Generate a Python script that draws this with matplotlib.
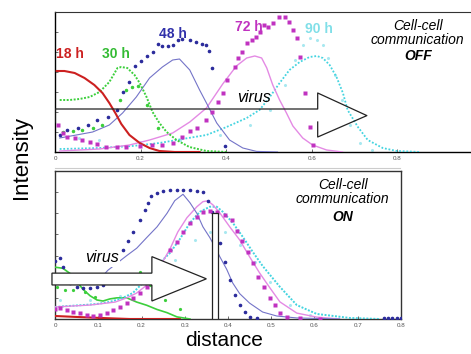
import numpy as np
import matplotlib
matplotlib.use("Agg")
import matplotlib.pyplot as plt
from matplotlib.patches import Polygon, Rectangle
from matplotlib.lines import Line2D

plt.rcParams['font.family'] = ['Liberation Sans', 'DejaVu Sans']

# ---- top panel (cell-cell communication OFF) ----
off_red_x = [0.004, 0.022, 0.046, 0.069, 0.092, 0.111, 0.127, 0.141, 0.155, 0.174, 0.198, 0.221, 0.244, 0.280, 0.338]
off_red_y = [4.05, 4.05, 3.95, 3.7, 3.35, 2.95, 2.45, 1.95, 1.4, 0.85, 0.45, 0.2, 0.05, 0.0, 0.0]

off_green_x = [0.011, 0.034, 0.057, 0.081, 0.104, 0.127, 0.146, 0.155, 0.169, 0.186, 0.198, 0.214, 0.228, 0.244, 0.261, 0.284, 0.314, 0.354, 0.401]
off_green_y = [2.6, 2.6, 2.65, 2.75, 3.0, 3.5, 4.2, 4.25, 4.2, 3.85, 3.45, 2.75, 2.0, 1.45, 1.0, 0.6, 0.25, 0.05, 0.0]
off_green_dx = [0.018, 0.041, 0.064, 0.088, 0.111, 0.151, 0.167, 0.181, 0.195, 0.216, 0.240]
off_green_dy = [1.0, 1.05, 1.1, 1.2, 1.35, 2.6, 3.1, 3.25, 3.3, 2.35, 1.2]

off_navy_x = [0.011, 0.05, 0.088, 0.127, 0.158, 0.19, 0.221, 0.251, 0.275, 0.291, 0.315, 0.338, 0.354, 0.378, 0.408, 0.439, 0.471, 0.52]
off_navy_y = [0.7, 0.85, 1.0, 1.35, 1.95, 2.75, 3.7, 4.25, 4.6, 4.65, 4.1, 3.1, 2.45, 1.45, 0.6, 0.2, 0.03, 0.0]
off_navy_dx = [0.011, 0.029, 0.053, 0.076, 0.099, 0.123, 0.146, 0.160, 0.174, 0.188, 0.200, 0.214, 0.228, 0.240, 0.251,
               0.263, 0.275, 0.287, 0.298, 0.315, 0.329, 0.343, 0.354, 0.359, 0.366, 0.398]
off_navy_dy = [0.85, 1.1, 1.2, 1.35, 1.6, 1.75, 2.1, 3.0, 3.5, 4.3, 4.55, 4.8, 5.0, 5.4, 5.3,
               5.3, 5.35, 5.6, 5.65, 5.6, 5.5, 5.4, 5.35, 5.05, 4.2, 0.3]

off_mag_x = [0.011, 0.104, 0.174, 0.221, 0.275, 0.315, 0.354, 0.392, 0.424, 0.448, 0.467, 0.483, 0.495, 0.509, 0.525,
             0.541, 0.556, 0.579, 0.602, 0.635, 0.672]
off_mag_y = [0.05, 0.15, 0.35, 0.6, 0.95, 1.5, 2.2, 3.4, 4.3, 4.7, 4.8, 4.7, 4.2, 3.35, 2.6,
             1.95, 1.3, 0.7, 0.35, 0.1, 0.0]
off_mag_dx = [0.008, 0.018, 0.029, 0.046, 0.062, 0.081, 0.099, 0.120, 0.144, 0.167, 0.198, 0.226, 0.251, 0.275,
              0.298, 0.315, 0.333, 0.354, 0.366, 0.380, 0.392, 0.403, 0.420, 0.427, 0.436, 0.448, 0.460, 0.469,
              0.478, 0.488, 0.497, 0.509, 0.523, 0.537, 0.548, 0.556, 0.565, 0.572, 0.584, 0.595, 0.602]
off_mag_dy = [1.35, 0.95, 0.75, 0.7, 0.6, 0.5, 0.4, 0.25, 0.25, 0.25, 0.3, 0.35, 0.35, 0.45,
              0.75, 1.05, 1.2, 1.6, 2.0, 2.5, 2.95, 3.6, 4.25, 4.7, 5.0, 5.45, 5.6, 5.75,
              6.0, 6.35, 6.25, 6.45, 6.75, 6.75, 6.5, 6.1, 5.7, 4.75, 2.95, 1.25, 0.35]

off_cyan_x = [0.011, 0.104, 0.181, 0.244, 0.298, 0.354, 0.401, 0.448, 0.478, 0.502, 0.525, 0.548, 0.572, 0.595, 0.612,
              0.626, 0.642, 0.658, 0.673, 0.684, 0.708, 0.731, 0.766, 0.799, 0.853]
off_cyan_y = [0.15, 0.2, 0.3, 0.45, 0.65, 0.85, 1.25, 1.7, 2.1, 2.75, 3.45, 4.1, 4.5, 4.75, 4.8,
              4.7, 4.35, 3.75, 2.95, 2.1, 1.25, 0.6, 0.2, 0.05, 0.0]
off_cyan_dx = [0.011, 0.057, 0.104, 0.198, 0.291, 0.385, 0.455, 0.502, 0.537, 0.560, 0.579, 0.595, 0.612, 0.626,
               0.637, 0.654, 0.670, 0.689, 0.712, 0.740]
off_cyan_dy = [0.85, 0.7, 0.6, 0.5, 0.6, 0.85, 1.35, 2.1, 3.35, 4.6, 5.35, 5.7, 5.6, 5.35,
               4.7, 3.85, 2.6, 1.35, 0.45, 0.1]

# ---- bottom panel (cell-cell communication ON) ----
on_red_x = [0.002, 0.046, 0.104, 0.173, 0.289]
on_red_y = [0.14, 0.1, 0.05, 0.0, 0.0]

on_green_x = [0.0, 0.018, 0.035, 0.051, 0.065, 0.081, 0.097, 0.111, 0.127, 0.143, 0.166, 0.189, 0.212, 0.236, 0.259, 0.282, 0.312]
on_green_y = [2.45, 2.4, 2.15, 1.75, 1.4, 1.1, 0.9, 0.85, 0.95, 1.0, 1.0, 0.8, 0.65, 0.45, 0.3, 0.1, 0.0]
on_green_dx = [0.005, 0.023, 0.042, 0.069, 0.092, 0.127, 0.150, 0.173, 0.196, 0.219, 0.254, 0.289]
on_green_dy = [1.5, 1.35, 1.35, 1.3, 1.05, 1.75, 1.85, 2.05, 2.2, 1.6, 0.9, 0.45]

on_navy_x = [0.0, 0.035, 0.065, 0.088, 0.111, 0.122, 0.166, 0.189, 0.212, 0.236, 0.259, 0.277, 0.296, 0.312, 0.328,
             0.342, 0.358, 0.370, 0.381, 0.397, 0.411, 0.427, 0.450, 0.480, 0.513, 0.559, 0.658]
on_navy_y = [1.7, 1.7, 1.7, 1.85, 2.05, 2.3, 3.0, 3.35, 3.85, 4.36, 5.0, 5.6, 5.9, 5.5, 5.0,
             4.36, 3.85, 3.4, 2.95, 2.35, 1.7, 1.2, 0.75, 0.33, 0.14, 0.05, 0.0]
on_navy_dx = [0.0, 0.012, 0.018, 0.035, 0.051, 0.065, 0.081, 0.097, 0.111, 0.134, 0.157, 0.169, 0.180, 0.196, 0.208,
              0.215, 0.222, 0.236, 0.249, 0.266, 0.282, 0.296, 0.312, 0.328, 0.342, 0.353, 0.363, 0.370, 0.381,
              0.393, 0.404, 0.416, 0.427, 0.439, 0.450, 0.467, 0.76, 0.77, 0.78, 0.79, 0.80]
on_navy_dy = [2.75, 2.9, 2.45, 1.7, 1.5, 1.45, 1.45, 1.5, 1.6, 2.0, 3.25, 3.7, 4.1, 4.7, 5.15,
              5.5, 5.8, 5.95, 6.05, 6.1, 6.1, 6.1, 6.1, 6.05, 6.0, 5.6, 5.05, 4.36, 3.6,
              2.7, 1.85, 1.15, 0.66, 0.33, 0.1, 0.05, 0.05, 0.05, 0.05, 0.05, 0.05]

on_mag_x = [0.0, 0.081, 0.139, 0.166, 0.189, 0.212, 0.226, 0.242, 0.266, 0.284, 0.305, 0.328, 0.342, 0.353, 0.365,
            0.381, 0.404, 0.427, 0.450, 0.473, 0.497, 0.520, 0.559, 0.605, 0.658]
on_mag_y = [0.57, 0.66, 0.8, 1.0, 1.23, 1.6, 1.99, 2.46, 3.32, 4.12, 4.79, 5.31, 5.55, 5.59, 5.4,
            5.02, 4.36, 3.74, 2.94, 2.18, 1.47, 0.81, 0.28, 0.09, 0.0]
on_mag_dx = [0.0, 0.012, 0.028, 0.042, 0.058, 0.074, 0.088, 0.104, 0.120, 0.134, 0.150, 0.166, 0.180, 0.196, 0.212,
             0.224, 0.236, 0.245, 0.266, 0.282, 0.296, 0.312, 0.328, 0.342, 0.358, 0.374, 0.393, 0.409, 0.420,
             0.432, 0.446, 0.457, 0.469, 0.483, 0.497, 0.508, 0.520, 0.536, 0.566, 0.612]
on_mag_dy = [0.47, 0.52, 0.43, 0.33, 0.28, 0.19, 0.14, 0.19, 0.28, 0.43, 0.57, 0.76, 1.0, 1.23, 1.52,
             1.85, 2.18, 2.51, 3.27, 3.65, 4.12, 4.55, 4.83, 5.07, 5.12, 5.07, 4.93, 4.69, 4.17,
             3.7, 3.18, 2.65, 1.99, 1.52, 1.0, 0.66, 0.28, 0.09, 0.05, 0.0]

on_cyan_x = [0.0, 0.035, 0.065, 0.097, 0.127, 0.157, 0.180, 0.203, 0.226, 0.242, 0.266, 0.289, 0.312, 0.335, 0.358,
             0.374, 0.388, 0.411, 0.434, 0.457, 0.480, 0.503, 0.520, 0.559, 0.605, 0.681, 0.751]
on_cyan_y = [0.57, 0.62, 0.66, 0.71, 0.81, 1.0, 1.23, 1.71, 2.23, 2.65, 3.13, 3.79, 4.55, 5.07, 5.31,
             5.31, 5.07, 4.55, 3.89, 3.18, 2.51, 1.94, 1.52, 0.66, 0.24, 0.05, 0.0]
on_cyan_dx = [0.012, 0.081, 0.150, 0.219, 0.277, 0.323, 0.358, 0.393, 0.427, 0.462, 0.497, 0.543, 0.589]
on_cyan_dy = [0.9, 0.9, 1.09, 1.61, 2.80, 3.74, 4.12, 4.12, 3.51, 2.70, 1.75, 0.66, 0.19]

top_ticks = [0, 0.2, 0.4, 0.6, 0.8]
top_ticklabels = ['0', '0.2', '0.4', '0.6', '0.8']
bot_ticks = [0, 0.1, 0.2, 0.3, 0.4, 0.5, 0.6, 0.7, 0.8]
bot_ticklabels = ['0', '0.1', '0.2', '0.3', '0.4', '0.5', '0.6', '0.7', '0.8']

# colours
RED = '#cc2020'
GREEN = '#3ccf3c'
NAVY_L = '#7474c8'
NAVY_D = '#2c2c9c'
MAG_L = '#e48ae4'
MAG_D = '#c032c0'
CYAN = '#44d4e0'
CYAN_L = '#a8e8f0'

fig = plt.figure(figsize=(4.71, 3.54), dpi=100)
ax1 = fig.add_axes([55/471, 1-152/354, 415/471, 140/354])
ax2 = fig.add_axes([55/471, 1-319/354, 346/471, 148/354])


def style_axes(ax, xmax, ticks, labels):
    ax.set_xlim(0, xmax)
    ax.set_ylim(0, 7)
    ax.set_yticks([1, 2, 3, 4, 5, 6])
    ax.set_yticklabels([])
    ax.set_xticks(ticks)
    ax.set_xticklabels(labels)
    ax.tick_params(axis='both', direction='in', length=2.5, width=0.6, color='#555555',
                   labelsize=4.5, labelcolor='#555555', pad=3)


# top
ax = ax1
style_axes(ax, 0.97, top_ticks, top_ticklabels)
for s in ['left', 'bottom']:
    ax.spines[s].set_color('black')
    ax.spines[s].set_linewidth(1.0)
ax.spines['top'].set_color('#333333')
ax.spines['right'].set_visible(False)

ax.plot(off_cyan_dx, off_cyan_dy, 'o', ms=1.2, color=CYAN_L, zorder=2)
ax.plot(off_cyan_x, off_cyan_y, color=CYAN, lw=1.3, ls=(0, (1, 1)), zorder=3)
ax.plot(off_mag_x, off_mag_y, color=MAG_L, lw=1.0, zorder=3)
ax.plot(off_navy_x, off_navy_y, color=NAVY_L, lw=0.8, zorder=3)
ax.plot(off_green_dx, off_green_dy, 'o', ms=1.5, color=GREEN, zorder=3)
ax.plot(off_green_x, off_green_y, color=GREEN, lw=1.4, ls=(0, (1, 0.8)), zorder=4)
ax.plot(off_red_x, off_red_y, color=RED, lw=1.5, zorder=4)
ax.plot(off_navy_dx, off_navy_dy, 'o', ms=1.6, color=NAVY_D, zorder=4)
ax.plot(off_mag_dx, off_mag_dy, 's', ms=2.3, color=MAG_D, mec='none', zorder=4)

# virus arrow, top (outline only)
arrow_top = [(0.0, 1.5), (0.0, 2.15), (0.614, 2.15), (0.614, 2.95), (0.729, 1.82),
             (0.614, 0.75), (0.614, 1.5)]
ax.add_line(Line2D([p[0] for p in arrow_top], [p[1] for p in arrow_top],
                   color='#222222', lw=0.9, zorder=6))
ax.text(0.425, 2.75, 'virus', fontsize=11.5, style='italic', ha='left', va='center', zorder=7)

ax.text(0.003, 4.9, '18 h', color=RED, fontsize=10, fontweight='bold', ha='left', va='center')
ax.text(0.109, 4.9, '30 h', color='#33bb33', fontsize=10, fontweight='bold', ha='left', va='center')
ax.text(0.244, 5.9, '48 h', color='#3030aa', fontsize=10, fontweight='bold', ha='left', va='center')
ax.text(0.42, 6.25, '72 h', color=MAG_D, fontsize=10, fontweight='bold', ha='left', va='center')
ax.text(0.584, 6.15, '90 h', color='#80dfe8', fontsize=10, fontweight='bold', ha='left', va='center')

ax.text(0.848, 5.95, 'Cell-cell\ncommunication', fontsize=10, style='italic', ha='center', va='center',
        linespacing=1.05)
ax.text(0.848, 4.8, 'OFF', fontsize=10, style='italic', fontweight='bold', ha='center', va='center')

# bottom
ax = ax2
style_axes(ax, 0.8, bot_ticks, bot_ticklabels)
for s in ax.spines.values():
    s.set_color('#333333')
    s.set_linewidth(1.0)

ax.plot(on_cyan_dx, on_cyan_dy, 'o', ms=1.2, color=CYAN_L, zorder=2)
ax.plot(on_red_x, on_red_y, color=RED, lw=1.5, zorder=3)
ax.plot(on_green_dx, on_green_dy, 'o', ms=1.3, color=GREEN, zorder=3)
ax.plot(on_green_x, on_green_y, color=GREEN, lw=1.2, zorder=3)
ax.plot(on_cyan_x, on_cyan_y, color=CYAN, lw=1.4, ls=(0, (1, 0.8)), zorder=3)
ax.plot(on_mag_x, on_mag_y, color=MAG_L, lw=1.0, zorder=3)
ax.plot(on_navy_x, on_navy_y, color=NAVY_L, lw=0.8, zorder=3)
ax.plot(on_navy_dx, on_navy_dy, 'o', ms=1.6, color=NAVY_D, zorder=4)
ax.plot(on_mag_dx, on_mag_dy, 's', ms=2.3, color=MAG_D, mec='none', zorder=4)

arrow_bot = [(-0.007, 1.61), (-0.007, 2.17), (0.224, 2.17), (0.224, 2.95), (0.35, 1.9),
             (0.224, 0.85), (0.224, 1.61)]
ax.add_patch(Polygon(arrow_bot, closed=True, facecolor='white', edgecolor='#222222', lw=0.9,
                     zorder=6, clip_on=False))
ax.text(0.069, 2.9, 'virus', fontsize=11.5, style='italic', ha='left', va='center', zorder=7,
        bbox=dict(facecolor='white', edgecolor='none', pad=1))
ax.add_patch(Rectangle((0.364, 0.0), 0.014, 5.02, facecolor='white', edgecolor='#222222', lw=0.9, zorder=6))

ax.text(0.665, 6.0, 'Cell-cell\ncommunication', fontsize=10, style='italic', ha='center', va='center',
        linespacing=1.05)
ax.text(0.665, 4.83, 'ON', fontsize=10, style='italic', fontweight='bold', ha='center', va='center')

fig.add_artist(Line2D([55/471, 400/471], [1-168/354, 1-168/354], color='#cccccc', lw=0.8))

fig.text(22/471, 1-157/354, 'Intensity', rotation=90, fontsize=16, ha='center', va='center')
fig.text(224/471, 1-340/354, 'distance', fontsize=15, ha='center', va='center')

fig.savefig('out.png', dpi=100)
